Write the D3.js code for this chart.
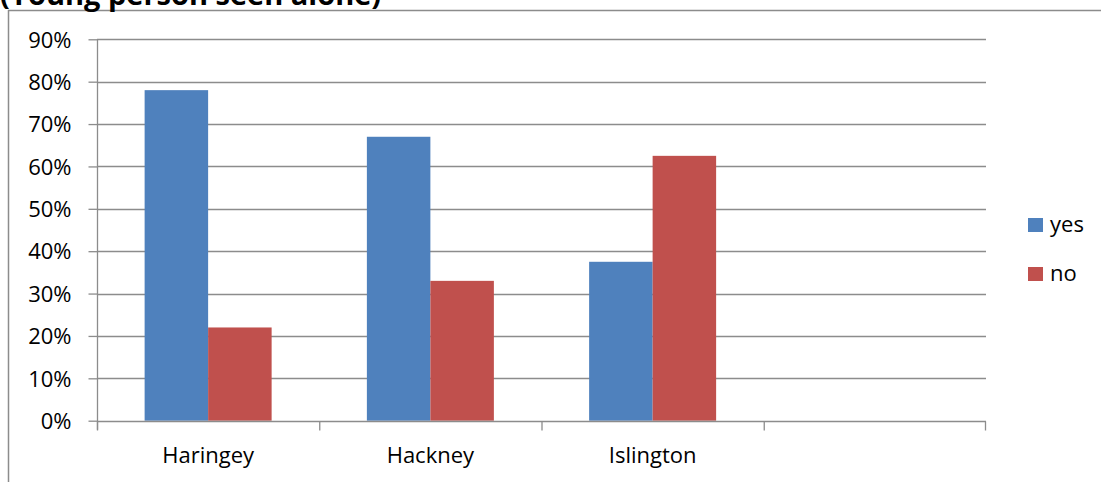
<!DOCTYPE html>
<html>
<head>
<meta charset="utf-8">
<script src="https://cdn.jsdelivr.net/npm/d3@7"></script>
<style>
  html, body { margin: 0; padding: 0; background: #fff; }
  svg { display: block; }
  text { font-family: "Open Sans", "Liberation Sans", sans-serif; fill: #000; }
</style>
</head>
<body>
<svg id="chart" width="1101" height="482"></svg>
<script>
// Share of visits where the young person was seen alone, by borough
const categories = ["Haringey", "Hackney", "Islington", ""];
const seriesNames = ["yes", "no"];
const yesValues = [0.78, 0.67, 0.375, null];
const noValues = [0.22, 0.33, 0.625, null];
const yTicks = [0, 0.1, 0.2, 0.3, 0.4, 0.5, 0.6, 0.7, 0.8, 0.9];
const seriesColors = ["#4F81BD", "#C0504D"];
const titleText = "(Young person seen alone)";

const values = [yesValues, noValues];
const svg = d3.select("#chart");

const plot = { left: 97, right: 986, top: 39.3, bottom: 420.7 };

// Frame lines of the chart area
svg.append("line")
  .attr("x1", 8.5).attr("x2", 8.5).attr("y1", 10).attr("y2", 482)
  .attr("stroke", "#8c8c8c").attr("stroke-width", 1.5);
svg.append("line")
  .attr("x1", 8).attr("x2", 1101).attr("y1", 10.5).attr("y2", 10.5)
  .attr("stroke", "#8c8c8c").attr("stroke-width", 1.5);

// Title, partly above the top edge
svg.append("text")
  .attr("x", 0).attr("y", 5)
  .attr("font-size", 29).attr("font-weight", "bold")
  .text(titleText);

const x = d3.scaleBand().domain(d3.range(categories.length))
  .range([plot.left, plot.right]).paddingInner(0).paddingOuter(0);
const xs = d3.scaleBand().domain(seriesNames)
  .range([0, x.bandwidth()]).paddingInner(0).paddingOuter(0.75);
const y = d3.scaleLinear().domain([0, 0.9]).range([plot.bottom, plot.top]);

// Horizontal gridlines
svg.append("g").selectAll("line")
  .data(yTicks.filter(d => d > 0))
  .join("line")
  .attr("x1", plot.left).attr("x2", plot.right)
  .attr("y1", d => Math.round(y(d)) + 0.5).attr("y2", d => Math.round(y(d)) + 0.5)
  .attr("stroke", "#8c8c8c").attr("stroke-width", 1.3);

// Bars
categories.forEach((c, i) => {
  seriesNames.forEach((s, j) => {
    const v = values[j][i];
    if (v == null) return;
    svg.append("rect")
      .attr("x", x(i) + xs(s))
      .attr("width", xs.bandwidth())
      .attr("y", y(v))
      .attr("height", y(0) - y(v))
      .attr("fill", seriesColors[j]);
  });
});

// Y axis
const yAxis = d3.axisLeft(y).tickValues(yTicks).tickFormat(d3.format(".0%"))
  .tickSize(9).tickPadding(17);
const gy = svg.append("g").attr("transform", `translate(${plot.left + 0.5},0)`).call(yAxis);
gy.select(".domain").attr("stroke", "#8c8c8c").attr("stroke-width", 1.3)
  .attr("d", `M0,${plot.top}V${plot.bottom + 9}`);
gy.selectAll(".tick line").attr("stroke", "#8c8c8c").attr("stroke-width", 1.3);
gy.selectAll(".tick text").attr("font-size", 22).attr("font-family", "'Open Sans', sans-serif")
  .attr("fill", "#000").attr("dy", "0.35em");

// X axis with boundary ticks between categories
const gx = svg.append("g").attr("transform", `translate(0,${Math.round(plot.bottom) + 0.5})`);
gx.append("line").attr("x1", plot.left).attr("x2", plot.right)
  .attr("stroke", "#8c8c8c").attr("stroke-width", 1.3);
gx.selectAll(".btick")
  .data(d3.range(categories.length + 1))
  .join("line")
  .attr("x1", i => i < categories.length ? x(i) + 0.5 : plot.right - 0.5)
  .attr("x2", i => i < categories.length ? x(i) + 0.5 : plot.right - 0.5)
  .attr("y1", 0).attr("y2", 9)
  .attr("stroke", "#8c8c8c").attr("stroke-width", 1.3);
gx.selectAll(".clabel")
  .data(categories)
  .join("text")
  .attr("x", (d, i) => x(i) + x.bandwidth() / 2)
  .attr("y", 41)
  .attr("text-anchor", "middle")
  .attr("font-size", 22)
  .text(d => d);

// Legend
const legend = svg.append("g");
seriesNames.forEach((s, j) => {
  const ly = 218 + j * 49;
  legend.append("rect")
    .attr("x", 1028).attr("y", ly)
    .attr("width", 15).attr("height", 14)
    .attr("fill", seriesColors[j]);
  legend.append("text")
    .attr("x", 1050).attr("y", ly + 14)
    .attr("font-size", 22)
    .text(s);
});
</script>
</body>
</html>
